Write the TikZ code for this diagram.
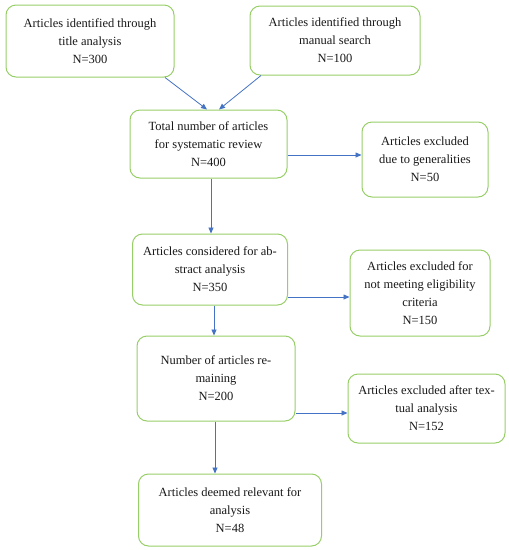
\documentclass[tikz,border=0pt]{standalone}
\usepackage{fontspec}
\setmainfont{Liberation Serif}
\usetikzlibrary{arrows.meta,calc}
\definecolor{boxgreen}{RGB}{152,206,104}
\definecolor{arrowblue}{RGB}{68,114,196}
\definecolor{txt}{RGB}{25,25,25}
\begin{document}
\begin{tikzpicture}[x=1pt,y=-1pt,
  box/.style={draw=boxgreen, line width=1pt, rounded corners=10pt, align=center,
    inner sep=0pt, text=txt, font=\fontsize{12.5}{18}\selectfont},
  arr/.style={draw=arrowblue, line width=0.8pt, -{Triangle[length=6pt,width=5pt]}}]
\useasboundingbox (0,0) rectangle (509,550);
\node[box, minimum width=168pt, minimum height=72pt] (b1) at (90,41) {Articles identified through\\title analysis\\N=300};
\node[box, minimum width=170pt, minimum height=69pt] (b2) at (335,40.5) {Articles identified through\\manual search\\N=100};
\node[box, minimum width=157pt, minimum height=68pt] (b3) at (208.5,144) {Total number of articles\\for systematic review\\N=400};
\node[box, minimum width=126pt, minimum height=75pt] (b4) at (425,159.5) {Articles excluded\\due to generalities\\N=50};
\node[box, minimum width=155pt, minimum height=71pt] (b5) at (210,269.5) {Articles considered for ab-\\stract analysis\\N=350};
\node[box, minimum width=140pt, minimum height=86pt] (b6) at (420,293) {Articles excluded for\\not meeting eligibility\\criteria\\N=150};
\node[box, minimum width=158pt, minimum height=85pt] (b7) at (216,378.5) {Number of articles re-\\maining\\N=200};
\node[box, minimum width=157pt, minimum height=69pt] (b8) at (426.5,408.5) {Articles excluded after tex-\\tual analysis\\N=152};
\node[box, minimum width=183pt, minimum height=72pt] (b9) at (230,510) {Articles deemed relevant for\\analysis\\N=48};
\draw[arr] ([xshift=75pt]b1.south) -- ([xshift=-1.5pt]b3.north);
\draw[arr] ([xshift=-74pt]b2.south) -- ([xshift=10.5pt]b3.north);
\draw[arr] ([yshift=-11pt]b3.east) -- ([yshift=-11pt]b3.east -| b4.west);
\draw[arr] ([xshift=2.5pt]b3.south) -- ([xshift=2.5pt]b3.south |- b5.north);
\draw[arr] ([yshift=-27.5pt]b5.east) -- ([yshift=-27.5pt]b5.east -| b6.west);
\draw[arr] ([xshift=4pt]b5.south) -- ([xshift=4pt]b5.south |- b7.north);
\draw[arr] ([yshift=-34.5pt]b7.east) -- ([yshift=-34.5pt]b7.east -| b8.west);
\draw[arr] ([xshift=-1pt]b7.south) -- ([xshift=-1pt]b7.south |- b9.north);
\end{tikzpicture}
\end{document}
